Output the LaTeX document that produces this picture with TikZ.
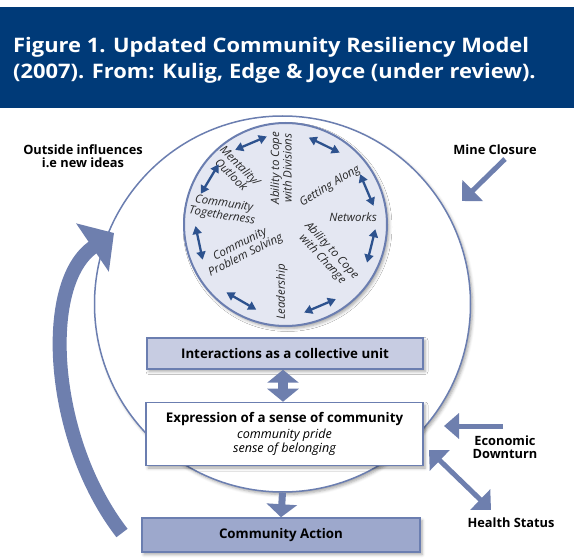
\documentclass[tikz,border=0pt]{standalone}
\usepackage{fontspec}
\setmainfont{Open Sans}
\usetikzlibrary{arrows.meta,shadows.blur,calc}
\definecolor{navy}{RGB}{0,58,120}
\definecolor{ring}{RGB}{107,126,176}
\definecolor{wheelfill}{RGB}{228,231,242}
\definecolor{wheelarrow}{RGB}{45,82,142}
\definecolor{boxlight}{RGB}{199,204,226}
\definecolor{boxdark}{RGB}{157,168,204}
\definecolor{fatblue}{RGB}{110,127,174}
\tikzset{
  shad/.style={blur shadow={shadow xshift=2pt,shadow yshift=-2.5pt,shadow blur radius=3pt,shadow opacity=35}},
  boxstyle/.style={draw=ring,line width=1.5pt,minimum width=#1,inner sep=0pt,align=center,shad},
  boldlbl/.style={font=\fontsize{13.3}{16}\selectfont\bfseries},
  outlbl/.style={font=\fontsize{12.8}{13.5}\selectfont\bfseries,align=center},
  wlbl/.style={font=\fontsize{11.5}{12.5}\selectfont\itshape,align=center,text=black!85,inner sep=0pt},
  warrow/.style={draw=wheelarrow,line width=2.3pt,{Triangle[width=9pt,length=8pt]}-{Triangle[width=9pt,length=8pt]}},
  titlefont/.style={font=\fontsize{20}{24}\selectfont\bfseries\addfontfeatures{FakeStretch=1.095}},
}
\begin{document}
\begin{tikzpicture}[x=1pt,y=-1pt]
\useasboundingbox (0,0) rectangle (574,559);
% header
\fill[navy] (0,7) rectangle (574,108);
\node[anchor=base west,inner sep=0pt,text=white,titlefont] (t1) at (13,53) {Figure 1. Updated Community Resiliency Model};
\node[anchor=base west,inner sep=0pt,text=white,titlefont] (t2) at (13,79) {(2007). From: Kulig, Edge \& Joyce (under review).};
% outer circle
\node[circle,draw=ring,line width=1.5pt,fill=white,minimum size=376pt,inner sep=0pt,shad] (outer) at (282.5,304) {};
% wheel
\node[circle,draw=ring,line width=2pt,fill=wheelfill,minimum size=203pt,inner sep=0pt,shad] (wheel) at (285.5,224.5) {};
\coordinate (C) at (285.5,224.5);
% wheel labels
\node[wlbl,rotate=90] (divisions) at (281,168) {Ability to Cope\\with Divisions};
\node[wlbl,rotate=31] (getting) at (330,186) {Getting Along};
\node[wlbl] (networks) at (353,217) {Networks};
\node[wlbl,rotate=-47] (change) at (327,255) {Ability to Cope\\with Change};
\node[wlbl,rotate=90] (leadership) at (282,292) {Leadership};
\node[wlbl,rotate=27] (problem) at (243,250) {Community\\Problem Solving};
\node[wlbl,rotate=-9] (together) at (223,210) {Community\\Togetherness};
\node[wlbl,rotate=-45] (mentality) at (236,170) {Mentality/\\Outlook};
% wheel arrows (angles counterclockwise; image y runs downwards)
\foreach \a [count=\i] in {113,64,23,-14,-67,-120,192,149}{
  \coordinate (wa\i) at ($(C)+({-\a-11}:90)$);
  \coordinate (wb\i) at ($(C)+({-\a+11}:90)$);
  \draw[warrow] (wa\i) -- (wb\i);
}
% boxes
\node[boxstyle=276pt,minimum height=31pt,fill=boxlight,boldlbl] (inter) at (285,353.5) {Interactions as a collective unit};
\node[boxstyle=277pt,minimum height=63pt,fill=white] (expr) at (284.5,434) {{\fontsize{13.3}{16}\selectfont\bfseries Expression of a sense of community}\\[2pt]
 {\fontsize{12.6}{16.5}\selectfont\itshape community pride}\\[0.5pt]{\fontsize{12.6}{16.5}\selectfont\itshape sense of belonging}};
\node[boxstyle=278pt,minimum height=34pt,fill=boxdark,boldlbl] (ca) at (281,535) {Community Action};
% fat arrows between boxes
\draw[fatblue,line width=10pt,{Triangle[width=31pt,length=13pt]}-{Triangle[width=31pt,length=13pt]}]
  ([xshift=-2pt]inter.south) -- ([xshift=-1.5pt]expr.north);
\draw[fatblue,line width=7pt,-{Triangle[width=30pt,length=13pt]}] (outer.south) -- (ca.north);
% outside labels
\node[outlbl] (outside) at (83,156) {Outside influences\\i.e new ideas};
\node[outlbl] (mine) at (495,150) {Mine Closure};
\node[outlbl] (econ) at (505,447) {Economic\\Downturn};
\node[outlbl] (health) at (511,523) {Health Status};
% outside arrows
\coordinate (mineA) at (505,159);
\coordinate (mineB) at (462,201);
\draw[fatblue,line width=5pt,-{Triangle[width=29pt,length=15pt]}] (mineA) -- (mineB);
\coordinate (econA) at (503,426);
\coordinate (econB) at (444,426);
\draw[fatblue,line width=5pt,-{Triangle[width=25pt,length=15pt]}] (econA) -- (econB);
\coordinate (healthA) at (491,510);
\coordinate (healthB) at (429,450);
\draw[fatblue,line width=5pt,{Triangle[width=28pt,length=15pt]}-{Triangle[width=28pt,length=15pt]}] (healthA) -- (healthB);
% big curved arrow
\coordinate (bigA) at (122,533);
\coordinate (bigB) at (114,233);
\draw[fatblue,line width=14pt,-{Triangle[width=57pt,length=26pt]}] (bigA) .. controls (50,440) and (40,283) .. (bigB);
\end{tikzpicture}
\end{document}
